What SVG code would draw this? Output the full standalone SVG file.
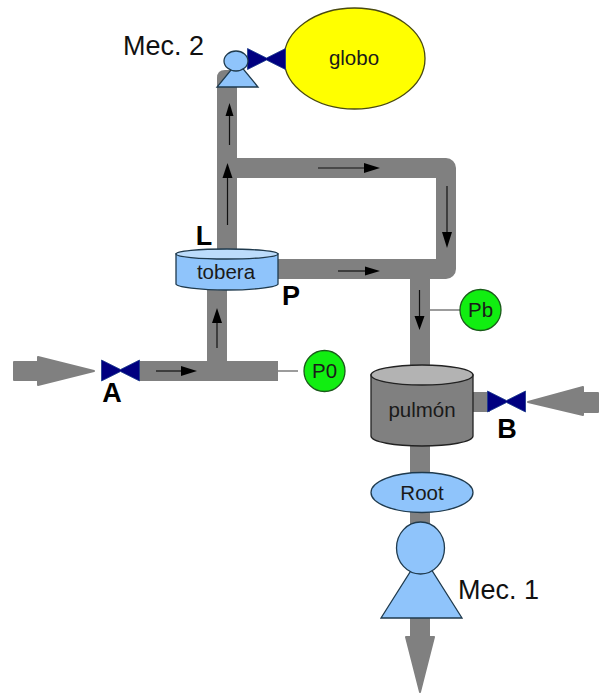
<svg xmlns="http://www.w3.org/2000/svg" width="599" height="693" viewBox="0 0 599 693">
<style>
text{font-family:"Liberation Sans",Arial,sans-serif;text-anchor:middle}
.t{font-size:20.500px;fill:#1a1a1a}
.m{font-size:27px;fill:#111}
.b{font-size:27px;font-weight:bold;fill:#000}
.pipe{fill:none;stroke:#808080;stroke-width:20;stroke-linejoin:round}
.big{fill:#808080;stroke:#808080;stroke-width:2;stroke-linejoin:round}
.flow{stroke:#111;stroke-width:1.2;fill:none}
.head{fill:#000}
.lead{stroke:#666;stroke-width:1.3}
.valve{fill:#000080;stroke:#1a3a8a;stroke-width:.8}
.blue{fill:#8fc4fb;stroke:#1f3a4d;stroke-width:1.3}
.lid{fill:#bcdcfb;stroke:#1f3a4d;stroke-width:1.3}
.grn{fill:#11ee11;stroke:#1a5a1a;stroke-width:1.3}
</style>
<defs>
<path id="bow" d="M-19,-10.500 L0,-1 L19,-10.500 L19,10.500 L0,1 L-19,10.500 Z"/>
</defs>
<rect width="599" height="693" fill="#fff"/>
<g id="connectors">
<path class="pipe" d="M227,225 V80"/>
<path d="M217,87 V78 Q217,70 225,70 H237 V87 Z" fill="#808080"/>
<path class="pipe" d="M227,168 H446 V269 H278"/>
<path class="pipe" d="M420,269 V640"/>
<path class="pipe" d="M227,269 V225"/>
<path class="pipe" d="M217,290 V371"/>
<path class="pipe" d="M139,371 H278"/>
<path class="pipe" d="M470,402 H490"/>
<path class="big" d="M14,362 H38 V357 L94,371 L38,385 V380 H14 Z"/>
<path class="big" d="M598,393 H583 V387 L528,402 L583,415 V412 H598 Z"/>
<path class="big" d="M411,637 H406 L420,692 L434,637 H429 V618 H411 Z"/>
<line class="lead" x1="278" y1="371" x2="298" y2="371"/>
<line class="lead" x1="430" y1="310" x2="460" y2="310"/>
<g id="flow-arrows">
<line class="flow" x1="229.500" y1="145" x2="229.500" y2="112"/><path class="head" d="M229.500,103 L233.500,116 H225.500 Z"/>
<line class="flow" x1="227.500" y1="225" x2="227.500" y2="175"/><path class="head" d="M227.500,163 L232.500,178 H222.500 Z"/>
<line class="flow" x1="318" y1="168" x2="368" y2="168"/><path class="head" d="M380,168 L364,163 V173 Z"/>
<line class="flow" x1="447" y1="186" x2="447" y2="235"/><path class="head" d="M447,248 L442,232 H452 Z"/>
<line class="flow" x1="338" y1="271" x2="368" y2="271"/><path class="head" d="M380,271 L365,266.500 V275.500 Z"/>
<line class="flow" x1="419.500" y1="290" x2="419.500" y2="318"/><path class="head" d="M419.500,330 L414.500,316 H424.500 Z"/>
<line class="flow" x1="156" y1="371" x2="185" y2="371"/><path class="head" d="M197,371 L181,366 V376 Z"/>
<line class="flow" x1="217" y1="348" x2="217" y2="320"/><path class="head" d="M217,308 L212,323 H222 Z"/>
</g>
</g>
<g id="globo">
<ellipse cx="354.500" cy="58.500" rx="70.500" ry="50.500" fill="#ffff00" stroke="#4a4a10" stroke-width="1.300"/>
<text class="t" x="354" y="65">globo</text>
</g>
<g id="valve-top"><use href="#bow" class="valve" transform="translate(266.500,59)"/></g>
<g id="mec2">
<path class="blue" d="M217,87 H258 L237.500,62 Z"/>
<ellipse class="blue" cx="236" cy="61" rx="12" ry="10"/>
<text class="m" x="163.500" y="55">Mec. 2</text>
</g>
<g id="tobera">
<path class="blue" d="M176,254 V284 C176,287 200,290 227,290 C254,290 278,287 278,284 V254 Z"/>
<ellipse class="lid" cx="227" cy="254" rx="51" ry="5"/>
<text class="t" x="226" y="279">tobera</text>
</g>
<g id="label-L"><text class="b" x="204" y="245">L</text></g>
<g id="label-P"><text class="b" x="291" y="305">P</text></g>
<g id="valve-A">
<use href="#bow" class="valve" transform="translate(120.500,370.500)"/>
<text class="b" x="112" y="402">A</text>
</g>
<g id="P0">
<circle class="grn" cx="324.500" cy="371" r="20.500"/>
<text class="t" x="324.500" y="378">P0</text>
</g>
<g id="Pb">
<circle class="grn" cx="480.500" cy="310" r="20.500"/>
<text class="t" x="480.500" y="317">Pb</text>
</g>
<g id="pulmon">
<path d="M371,375 V436 C371,442 395,446 422,446 C449,446 473,442 473,436 V375 Z" fill="#808080" stroke="#222" stroke-width="1.300"/>
<ellipse cx="422" cy="375" rx="51" ry="10" fill="#b3b3b3" stroke="#222" stroke-width="1.300"/>
<text class="t" x="422" y="417">pulmón</text>
</g>
<g id="valve-B">
<use href="#bow" class="valve" transform="translate(506.500,401.500)"/>
<text class="b" x="507" y="438">B</text>
</g>
<g id="root">
<ellipse class="blue" cx="422" cy="492.500" rx="51" ry="20"/>
<text class="t" x="422" y="500">Root</text>
</g>
<g id="mec1">
<path class="blue" d="M381,618 H462 L421.500,554 Z"/>
<ellipse class="blue" cx="420.500" cy="548" rx="24" ry="26"/>
<text class="m" x="498.500" y="599">Mec. 1</text>
</g>
</svg>
